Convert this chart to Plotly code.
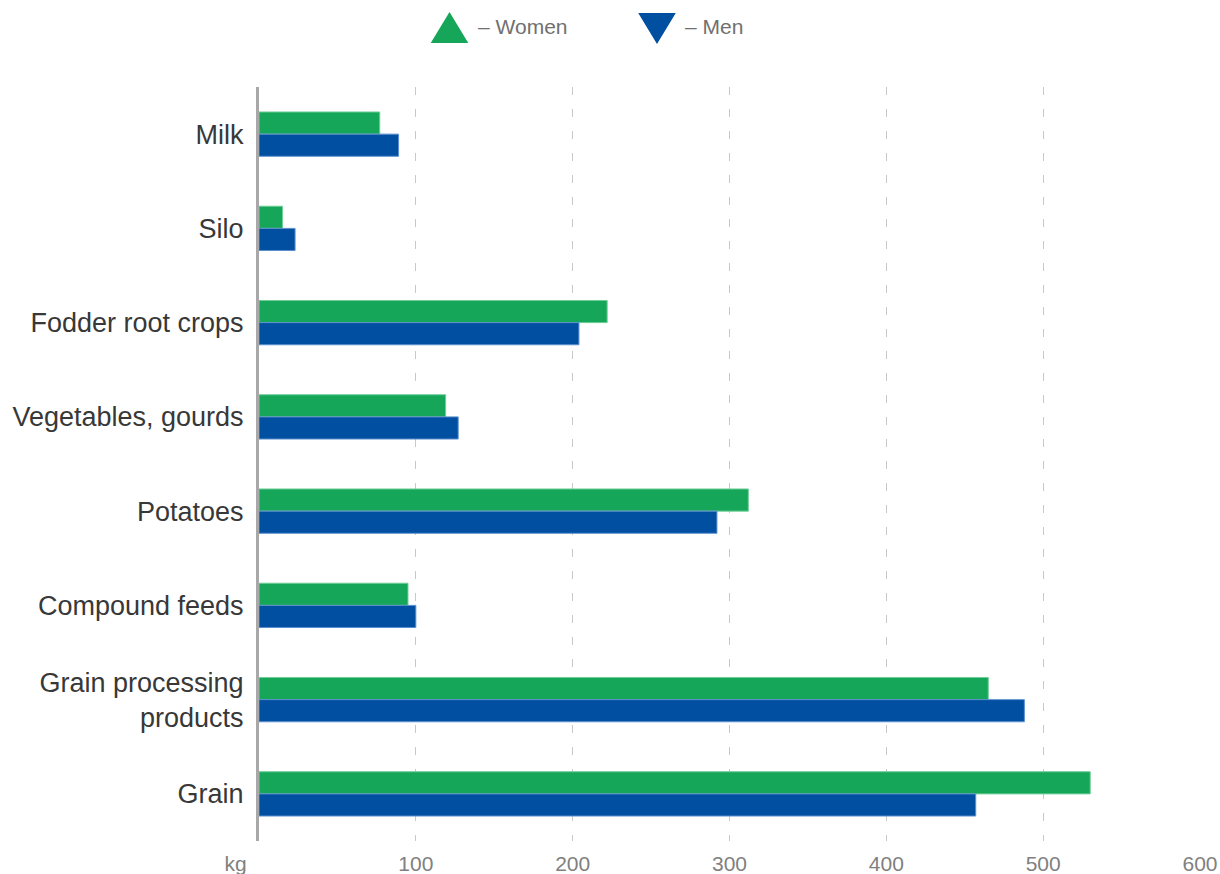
import plotly.graph_objects as go

categories = ["Milk", "Silo", "Fodder root crops", "Vegetables, gourds", "Potatoes",
              "Compound feeds", "Grain processing<br>products", "Grain"]
women = [77, 15, 222, 119, 312, 95, 465, 530]
men = [89, 23, 204, 127, 292, 100, 488, 457]
tick_vals = [0, 100, 200, 300, 400, 500, 600]
tick_text = ["kg" + "\u00a0" * 8, "100", "200", "300", "400", "500", "600"]

GREEN = "#16a65a"
BLUE = "#004fa0"

fig = go.Figure()
fig.add_trace(go.Bar(y=categories, x=women, orientation="h", name="– Women",
                     marker=dict(color=GREEN, line=dict(color="#6fcf97", width=1)),
                     showlegend=False))
fig.add_trace(go.Bar(y=categories, x=men, orientation="h", name="– Men",
                     marker=dict(color=BLUE, line=dict(color="#5d8fcf", width=1)),
                     showlegend=False))

W, H = 1220, 874
L, R, T, B = 259, 20, 87, 33
pw, ph = W - L - R, H - T - B

def px_x(p):
    return (p - L) / pw

def px_y(p):
    return (H - B - p) / ph

# legend drawn as triangle icons + text
shapes = []
annotations = []
for cx, up, color, label, tx in [(449.5, True, GREEN, "– Women", 476),
                                  (657, False, BLUE, "– Men", 683)]:
    if up:
        path = "M -17,-14 L 17,-14 L 0,14 Z"
    else:
        path = "M -17,14 L 17,14 L 0,-14 Z"
    shapes.append(dict(type="path", xref="paper", yref="paper",
                       xsizemode="pixel", ysizemode="pixel",
                       xanchor=px_x(cx), yanchor=px_y(28),
                       path=path, fillcolor=color, line=dict(color=color, width=2)))
    annotations.append(dict(xref="paper", yref="paper", x=px_x(tx), y=px_y(27),
                            xanchor="left", yanchor="middle", text=label, showarrow=False,
                            font=dict(size=21, color="#707070")))

fig.update_layout(
    width=W, height=H,
    margin=dict(l=L, r=R, t=T, b=B),
    paper_bgcolor="white", plot_bgcolor="white",
    barmode="group", bargap=0.53, bargroupgap=0,
    font=dict(family="Liberation Sans, Arial, sans-serif"),
    showlegend=False,
    shapes=shapes, annotations=annotations,
)
fig.update_xaxes(range=[0, 600], tickvals=tick_vals, ticktext=tick_text,
                 automargin=False,
                 showgrid=True, gridcolor="#c8c8c8", griddash="8px,14px", gridwidth=1,
                 zeroline=False, showline=False,
                 ticks="outside", ticklen=4, tickcolor="rgba(0,0,0,0)",
                 tickfont=dict(size=21, color="#808080"))
fig.update_yaxes(autorange="reversed", showgrid=False, zeroline=False,
                 automargin=False,
                 showline=True, linecolor="#a8a8a8", linewidth=3,
                 ticks="outside", ticklen=7, tickcolor="rgba(0,0,0,0)",
                 tickfont=dict(size=27, color="#383838"))

fig.write_html("out.html")
